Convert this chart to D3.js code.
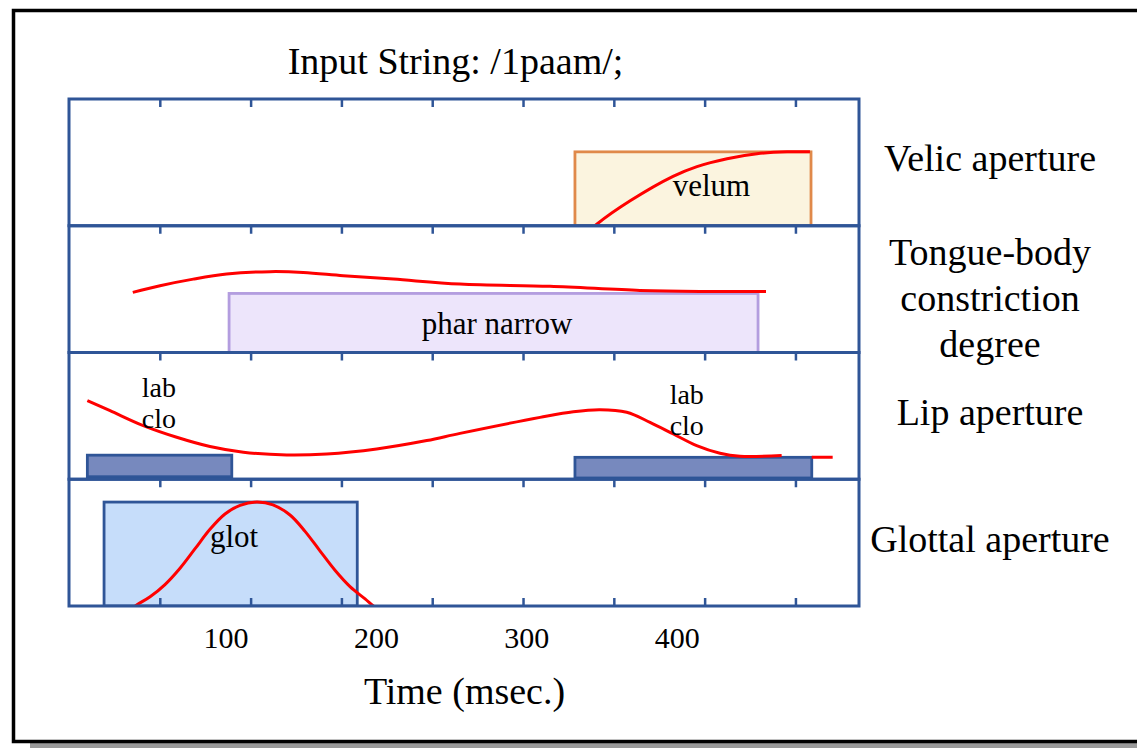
<!DOCTYPE html>
<html><head><meta charset="utf-8">
<script src="https://cdn.jsdelivr.net/npm/d3@7"></script>
<style>
html,body{margin:0;padding:0;background:#fff;overflow:hidden}
svg{display:block}
text{font-family:"Liberation Serif","Times New Roman",serif;fill:#000}
</style></head><body>
<svg id="chart" width="1137" height="748"></svg>
<script>
// ---------- data ----------
const title = "Input String: /1paam/;";
const xAxisTitle = "Time (msec.)";
const panelNames = [["Velic aperture"], ["Tongue-body", "constriction", "degree"], ["Lip aperture"], ["Glottal aperture"]];
const timeTickValues = [100, 200, 300, 400];
const frameTickValues = [10, 20, 30, 40, 50, 60, 70, 80];

const gestureNames  = ["velum", "phar narrow", "lab\nclo", "lab\nclo", "glot"];
const gestureKinds  = ["velum", "phar", "lab", "lab", "glot"];
const gesturePanel  = [0, 1, 2, 2, 3];
const gestureStart  = [332.3, 102.4, 8.2, 332.3, 19.3];
const gestureEnd    = [489.2, 454.0, 104.2, 489.7, 187.6];
const gestureLow    = [0, 0, 0.02, 0.01, 0];
const gestureHigh   = [0.583, 0.466, 0.19, 0.173, 0.82];
const gestureLabelT = [423, 280.5, 55.8, 406.6, 105.7];
const gestureLabelV = [0.313, 0.229, 0.725, 0.67, 0.546];

const velumCurve = [[343, -0.03], [347, 0.014], [369, 0.197], [397.5, 0.39], [413.4, 0.467], [433.4, 0.529],
  [453.3, 0.568], [473.3, 0.583], [488.5, 0.583]];
const tongueCurve = [[38.4, 0.474], [56.5, 0.527], [78.6, 0.579], [100.8, 0.619], [129.6, 0.638], [151.7, 0.632],
  [178.3, 0.606], [211.6, 0.579], [255.9, 0.540], [315.7, 0.522], [375.5, 0.490], [415.4, 0.482], [459.3, 0.482]];
const lipCurve = [[8.2, 0.620], [23.3, 0.541], [45.4, 0.423], [67.6, 0.331], [89.7, 0.258], [111.9, 0.213],
  [140.7, 0.191], [167.3, 0.199], [200.5, 0.239], [233.8, 0.305], [255.9, 0.362], [309.1, 0.488], [331.2, 0.533],
  [349.0, 0.549], [366.7, 0.528], [382.2, 0.449], [397.7, 0.357], [413.2, 0.265], [428.7, 0.205], [442.0, 0.181],
  [469.7, 0.187], [478, null], [489.7, 0.173], [503.6, 0.173]];
const glotCurve = [[38, -0.02], [41.0, 0.008], [49.9, 0.073], [59.8, 0.169], [69.8, 0.298], [79.8, 0.452],
  [89.7, 0.605], [99.7, 0.726], [109.7, 0.794], [120.8, 0.820], [131.6, 0.798], [142.9, 0.718], [152.9, 0.589],
  [162.8, 0.435], [172.8, 0.282], [182.8, 0.153], [192.8, 0.056], [198.3, 0.0], [202, -0.03]];
const panelCurves = [velumCurve, tongueCurve, lipCurve, glotCurve];

// ---------- styles ----------
const axisColor = "#2f5597";
const boxStyles = {
  velum: {fill: "#fbf4df", stroke: "#e0894a"},
  phar:  {fill: "#ede5fb", stroke: "#b39ddf"},
  lab:   {fill: "#7789be", stroke: "#2f5597"},
  glot:  {fill: "#c6ddfa", stroke: "#2f5597"}
};

const svg = d3.select("#chart");
const plotLeft = 69, plotRight = 859, plotTop = 99, plotBottom = 606;

// outer frame + shadow
svg.append("rect").attr("x", 30).attr("y", 743).attr("width", 1120).attr("height", 8).attr("fill", "#9a9a9a");
svg.append("rect").attr("x", 13.5).attr("y", 10.5).attr("width", 1140).attr("height", 731)
  .attr("fill", "#fff").attr("stroke", "#000").attr("stroke-width", 3.5);

// scales
const x = d3.scaleLinear().domain([-4, 521.1]).range([plotLeft, plotRight]);
const frame = d3.scaleLinear().domain([0, 87]).range([plotLeft, plotRight]);
const band = d3.scaleBand().domain(d3.range(panelNames.length)).range([plotTop, plotBottom]).padding(0);
const y = d3.scaleLinear().domain([0, 1]).range([band.bandwidth(), 0]);

const line = d3.line()
  .defined(d => d[1] !== null)
  .x(d => x(d[0])).y(d => y(d[1]))
  .curve(d3.curveCatmullRom.alpha(0.5));

panelNames.forEach((names, i) => {
  const g = svg.append("g").attr("transform", `translate(0,${band(i)})`);
  const cid = "clip" + i;
  g.append("clipPath").attr("id", cid).append("rect")
    .attr("x", plotLeft).attr("y", 0).attr("width", plotRight - plotLeft).attr("height", band.bandwidth());
  const inner = g.append("g").attr("clip-path", `url(#${cid})`);

  // gesture boxes
  gestureNames.forEach((nm, j) => {
    if (gesturePanel[j] !== i) return;
    const st = boxStyles[gestureKinds[j]];
    inner.append("rect")
      .attr("x", x(gestureStart[j])).attr("y", y(gestureHigh[j]))
      .attr("width", x(gestureEnd[j]) - x(gestureStart[j]))
      .attr("height", y(gestureLow[j]) - y(gestureHigh[j]))
      .attr("fill", st.fill).attr("stroke", st.stroke).attr("stroke-width", 2.8);
  });

  // trajectory
  inner.append("path").datum(panelCurves[i]).attr("d", line)
    .attr("fill", "none").attr("stroke", "#ff0000").attr("stroke-width", 3);

  // gesture labels
  gestureNames.forEach((nm, j) => {
    if (gesturePanel[j] !== i) return;
    const lines = nm.split("\n");
    const multi = lines.length > 1;
    const t = g.append("text").attr("text-anchor", "middle").attr("font-size", multi ? 28 : 31)
      .attr("x", x(gestureLabelT[j])).attr("y", y(gestureLabelV[j]));
    lines.forEach((ln, k) => {
      t.append("tspan").attr("x", x(gestureLabelT[j])).attr("dy", k === 0 ? "0.33em" : 31).text(ln);
    });
  });

  // panel border
  g.append("rect").attr("x", plotLeft).attr("y", 0)
    .attr("width", plotRight - plotLeft).attr("height", band.bandwidth())
    .attr("fill", "none").attr("stroke", axisColor).attr("stroke-width", 3);

  // inward ticks at top
  const topAxis = g.append("g").call(d3.axisTop(frame).tickValues(frameTickValues).tickSize(-8).tickFormat(""));
  topAxis.select(".domain").remove();
  topAxis.selectAll(".tick line").attr("stroke", axisColor).attr("stroke-width", 2.5);

  // right-side label
  const lh = 46;
  const base = band.bandwidth() / 2 + (names.length > 1 ? 22 : 9) - (names.length - 1) / 2 * lh;
  const rt = g.append("text").attr("text-anchor", "middle").attr("font-size", 38);
  names.forEach((ln, k) => {
    rt.append("tspan").attr("x", 990).attr("y", base + k * lh).text(ln);
  });
});

// bottom inward ticks
const bottomTicks = svg.append("g").attr("transform", `translate(0,${plotBottom})`)
  .call(d3.axisBottom(frame).tickValues(frameTickValues).tickSize(-8).tickFormat(""));
bottomTicks.select(".domain").remove();
bottomTicks.selectAll(".tick line").attr("stroke", axisColor).attr("stroke-width", 2.5);

// time labels
const timeAxis = svg.append("g").attr("transform", `translate(0,${plotBottom})`)
  .call(d3.axisBottom(x).tickValues(timeTickValues).tickSize(0).tickPadding(0).tickFormat(d3.format("d")));
timeAxis.select(".domain").remove();
timeAxis.attr("font-family", null).attr("font-size", null);
timeAxis.selectAll(".tick text").attr("font-size", 30)
  .attr("dy", null).attr("y", 42).attr("fill", "#000");

// titles
svg.append("text").attr("x", 455.5).attr("y", 73.5).attr("text-anchor", "middle").attr("font-size", 38).text(title);
svg.append("text").attr("x", 464.5).attr("y", 704).attr("text-anchor", "middle").attr("font-size", 38).text(xAxisTitle);
</script>
</body></html>
